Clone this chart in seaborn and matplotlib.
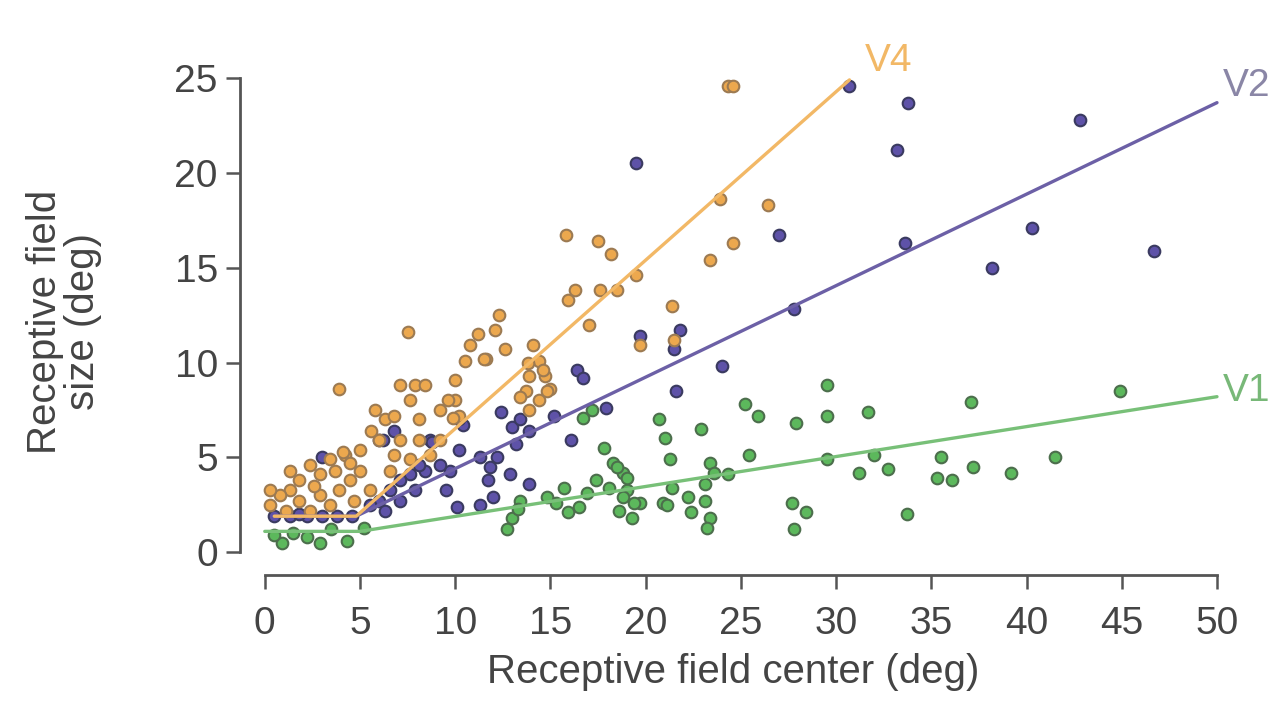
import numpy as np
import pandas as pd
import seaborn as sns
import matplotlib.pyplot as plt

# V4 (orange)
v4_x = [24.3, 24.6, 23.9, 24.6, 26.4, 23.4,
        15.8, 17.5, 18.2, 16.3, 15.9, 17.6, 18.5, 17.0, 19.5, 19.7, 21.4, 21.5,
        12.3, 11.2, 11.6, 10.5, 14.1, 13.9, 14.7, 14.4, 13.7, 14.4, 15.0, 13.4, 14.8, 13.9,
        7.5, 3.9, 7.1, 7.9, 8.4, 7.6, 8.1, 9.2, 10.0, 10.2, 9.6, 9.9,
        5.8, 6.3, 6.8, 5.6, 6.0, 7.1, 8.1, 9.2,
        5.0, 4.2, 3.4, 2.4, 2.9, 1.8, 1.3, 0.8, 1.8, 2.9, 3.9, 4.5, 5.0,
        0.3, 1.1, 2.4, 3.4, 4.7, 5.5, 6.6, 7.6, 8.7, 6.8, 1.3, 0.3, 2.6, 3.7, 4.5, 4.1,
        12.1, 10.8, 10.0, 12.6, 11.5, 13.8, 14.6]
v4_y = [24.6, 24.6, 18.6, 16.3, 18.3, 15.4,
        16.7, 16.4, 15.7, 13.8, 13.3, 13.8, 13.8, 12.0, 14.6, 10.9, 13.0, 11.2,
        12.5, 11.5, 10.2, 10.1, 10.9, 9.3, 9.3, 10.1, 8.5, 8.0, 8.6, 8.2, 8.5, 7.5,
        11.6, 8.6, 8.8, 8.8, 8.8, 8.0, 7.0, 7.5, 8.0, 7.2, 8.0, 7.1,
        7.5, 7.0, 7.2, 6.4, 5.9, 5.9, 5.9, 5.9,
        5.4, 5.1, 4.9, 4.6, 4.1, 3.8, 3.3, 3.0, 2.7, 3.0, 3.3, 3.8, 4.3,
        2.5, 2.2, 2.2, 2.5, 2.7, 3.3, 4.3, 4.9, 5.1, 5.1, 4.3, 3.3, 3.5, 4.3, 4.7, 5.3,
        11.7, 10.9, 9.1, 10.7, 10.2, 10.0, 9.6]

# V2 (purple)
v2_x = [30.7, 33.8, 33.2, 33.6, 42.8, 40.3, 38.2, 46.7, 19.5, 27.0, 27.8,
        19.7, 21.8, 21.5, 21.6, 24.0, 16.4, 16.7, 17.9, 15.2, 16.1,
        12.4, 10.4, 13.0, 13.2, 10.2, 11.3, 12.2, 11.8, 12.9, 13.9, 11.7, 9.7, 9.5, 12.0, 10.1, 10.2, 13.9, 13.4,
        8.7, 8.4, 7.6, 7.1, 6.6, 6.0, 5.5, 6.3, 7.1, 7.9, 8.1, 9.2, 6.0, 6.8, 8.8, 6.2, 3.0,
        0.5, 1.3, 2.2, 3.0, 3.8, 4.6, 1.8, 11.3]
v2_y = [24.6, 23.7, 21.2, 16.3, 22.8, 17.1, 15.0, 15.9, 20.5, 16.7, 12.8,
        11.4, 11.7, 10.7, 8.5, 9.8, 9.6, 9.2, 7.6, 7.2, 5.9,
        7.4, 6.7, 6.6, 5.7, 5.4, 5.0, 5.0, 4.5, 4.1, 3.6, 3.8, 4.3, 3.3, 2.9, 2.4, 7.0, 6.4, 7.0,
        5.9, 4.3, 4.1, 3.8, 3.3, 2.7, 2.5, 2.2, 2.7, 3.3, 4.6, 4.6, 5.9, 6.4, 5.8, 5.9, 5.0,
        1.9, 1.9, 1.9, 1.9, 1.9, 1.9, 2.0, 2.5]

# V1 (green)
v1_x = [44.9, 37.1, 31.7, 29.5, 29.5, 27.9, 25.2, 25.9, 20.7, 21.0, 21.3, 22.9, 25.4, 29.5,
        32.0, 32.7, 31.2, 35.5, 35.3, 36.1, 37.2, 39.2, 41.5, 33.7, 27.7, 28.4, 27.8,
        17.8, 18.3, 18.8, 17.4, 19.0, 19.7, 18.6, 19.3, 16.9, 16.5, 15.7, 15.3, 14.8, 15.9,
        13.4, 13.0, 12.7, 13.3, 16.7, 17.2,
        21.4, 20.9, 21.1, 22.2, 22.4, 23.4, 23.6, 23.1, 23.1, 23.4, 23.2, 24.3, 18.1, 18.8, 19.4, 18.5, 19.0,
        0.9, 2.9, 4.3, 1.5, 3.5, 5.2, 0.5, 2.2]
v1_y = [8.5, 7.9, 7.4, 8.8, 7.2, 6.8, 7.8, 7.2, 7.0, 6.0, 4.9, 6.5, 5.1, 4.9,
        5.1, 4.4, 4.2, 5.0, 3.9, 3.8, 4.5, 4.2, 5.0, 2.0, 2.6, 2.1, 1.2,
        5.5, 4.7, 4.2, 3.8, 3.3, 2.6, 2.2, 1.8, 3.1, 2.4, 3.4, 2.6, 2.9, 2.1,
        2.7, 1.8, 1.2, 2.3, 7.1, 7.5,
        3.4, 2.6, 2.5, 2.9, 2.1, 4.7, 4.2, 3.6, 2.7, 1.8, 1.3, 4.1, 3.4, 2.9, 2.6, 4.5, 3.9,
        0.5, 0.5, 0.6, 1.0, 1.2, 1.3, 0.9, 0.8]

# fit lines
fit_v4_x = [0.5, 4.8, 30.7]
fit_v4_y = [1.9, 1.9, 24.9]
fit_v2_x = [0.5, 4.8, 50.0]
fit_v2_y = [1.9, 1.9, 23.7]
fit_v1_x = [0.0, 5.0, 50.0]
fit_v1_y = [1.1, 1.1, 8.2]

areas = ["V1", "V2", "V4"]
face = {"V4": "#eca84e", "V2": "#5e52a8", "V1": "#5cb85c"}
edge = {"V4": "#9c7a52", "V2": "#3a3a60", "V1": "#4c6e4c"}
line_col = {"V4": "#f2b866", "V2": "#6c60a6", "V1": "#78c078"}

pts = pd.concat([
    pd.DataFrame({"x": v1_x, "y": v1_y, "area": "V1"}),
    pd.DataFrame({"x": v2_x, "y": v2_y, "area": "V2"}),
    pd.DataFrame({"x": v4_x, "y": v4_y, "area": "V4"}),
])
fits = pd.concat([
    pd.DataFrame({"x": fit_v1_x, "y": fit_v1_y, "area": "V1"}),
    pd.DataFrame({"x": fit_v2_x, "y": fit_v2_y, "area": "V2"}),
    pd.DataFrame({"x": fit_v4_x, "y": fit_v4_y, "area": "V4"}),
])

sns.set_style("ticks")
plt.rcParams['font.family'] = ['Liberation Sans', 'DejaVu Sans']

fig = plt.figure(figsize=(12.87, 7.25), dpi=100)
ax = fig.add_axes([0.1865, 0.2069, 0.7665, 0.6986])

for a in areas:
    d = pts[pts.area == a]
    sns.scatterplot(data=d, x="x", y="y", ax=ax, s=70, color=face[a],
                    edgecolor=edge[a], linewidth=1.5, clip_on=False, zorder=2)
for a in ["V1", "V2", "V4"]:
    d = fits[fits.area == a]
    sns.lineplot(data=d, x="x", y="y", ax=ax, color=line_col[a], lw=2.4,
                 estimator=None, sort=False, zorder=3)

ax.text(31.5, 25.9, "V4", color="#f2b866", fontsize=28, ha="left", va="center")
ax.text(50.3, 24.6, "V2", color="#8a86a6", fontsize=28, ha="left", va="center")
ax.text(50.3, 8.5, "V1", color="#78b878", fontsize=28, ha="left", va="center")

ax.set_xlim(-1.3, 50.5)
ax.set_ylim(-1.2, 25.5)
ax.set_xticks(range(0, 51, 5))
ax.set_yticks(range(0, 26, 5))
ax.spines['left'].set_bounds(0, 25)
ax.spines['bottom'].set_bounds(0, 50)
sns.despine(ax=ax)
for s in ["left", "bottom"]:
    ax.spines[s].set_color("#555555")
    ax.spines[s].set_linewidth(2.0)
ax.tick_params(axis="both", length=10, width=1.8, color="#555555",
               labelsize=28, labelcolor="#444444")
ax.tick_params(axis="x", pad=12)
ax.tick_params(axis="y", pad=6)
ax.set_xlabel("Receptive field center (deg)", fontsize=29, color="#444444", labelpad=8)
ax.set_ylabel("Receptive field\nsize (deg)", fontsize=29, color="#444444", labelpad=52,
              linespacing=1.0)
ax.legend_ = None

fig.savefig("out.png", dpi=100)
